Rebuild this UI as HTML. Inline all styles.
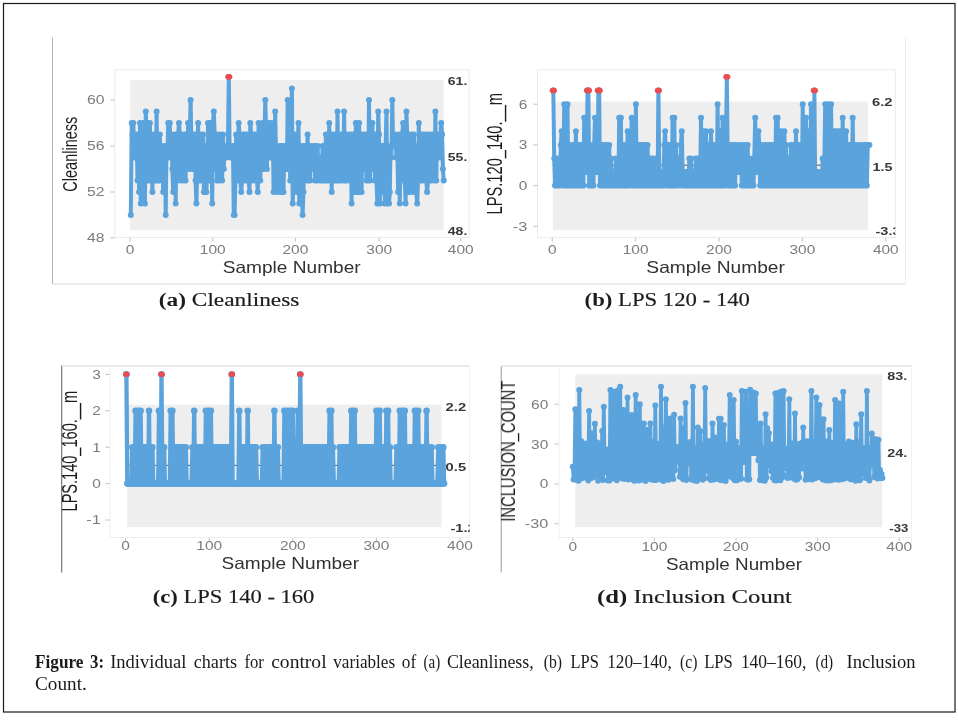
<!DOCTYPE html>
<html lang="en"><head><meta charset="utf-8"><title>Figure 3</title>
<style>html,body{margin:0;padding:0;background:#fff;}body{width:958px;height:720px;overflow:hidden;font-family:"Liberation Sans",sans-serif;}svg{display:block;}</style>
</head><body>
<svg width="958" height="720" viewBox="0 0 958 720">
<defs><filter id="soft" x="-2%" y="-2%" width="104%" height="104%"><feGaussianBlur stdDeviation="0.6"/></filter><filter id="soft2" x="-2%" y="-2%" width="104%" height="104%"><feGaussianBlur stdDeviation="0.62"/></filter>
<clipPath id="clipB"><rect x="480" y="60" width="415.3" height="200"/></clipPath>
<clipPath id="clipA"><rect x="40" y="60" width="429.2" height="200"/></clipPath>
<clipPath id="clipC"><rect x="40" y="366" width="429.6" height="200"/></clipPath>
<clipPath id="clipD"><rect x="480" y="366" width="429.5" height="200"/></clipPath>
</defs>
<rect x="0" y="0" width="958" height="720" fill="#ffffff"/>
<rect x="3.5" y="3.5" width="951.5" height="708.5" fill="none" stroke="#1a1a1a" stroke-width="1.2"/>
<g filter="url(#soft)">
<path d="M52.5 37.5V284" stroke="#b5b5b5" stroke-width="1" fill="none"/>
<path d="M52.5 284H905.5" stroke="#d9d9d9" stroke-width="1" fill="none"/>
<path d="M905.5 38V284" stroke="#ececec" stroke-width="1" fill="none"/>
<rect x="114.8" y="69.8" width="354.4" height="167.8" fill="#ffffff" stroke="#ebebeb" stroke-width="1"/>
<rect x="130.2" y="80" width="313.5" height="150.2" fill="#eeeeee"/>
<polyline points="130.8,215 131.7,123 132.5,134.5 133.3,123 134.2,157.5 135,134.5 135.8,157.5 136.6,134.5 137.5,180.5 138.3,134.5 139.1,192 140,123 140.8,203.5 141.6,134.5 142.4,180.5 143.3,123 144.1,169 144.9,203.5 145.8,111.5 146.6,134.5 147.4,180.5 148.3,123 149.1,180.5 149.9,123 150.8,180.5 151.6,134.5 152.4,192 153.2,134.5 154.1,180.5 154.9,146 155.7,180.5 156.6,111.5 157.4,180.5 158.2,134.5 159.1,180.5 159.9,134.5 160.7,169 161.5,146 162.4,157.5 163.2,192 164,169 164.9,146 165.7,215 166.5,146 167.3,157.5 168.2,123 169,157.5 169.8,123 170.7,157.5 171.5,134.5 172.3,169 173.2,192 174,169 174.8,134.5 175.7,203.5 176.5,134.5 177.3,180.5 178.1,134.5 179,123 179.8,134.5 180.6,180.5 181.5,134.5 182.3,169 183.1,146 183.9,180.5 184.8,134.5 185.6,180.5 186.4,134.5 187.3,157.5 188.1,123 188.9,169 189.8,134.5 190.6,100 191.4,146 192.2,169 193.1,134.5 193.9,169 194.7,134.5 195.6,180.5 196.4,203.5 197.2,169 198.1,123 198.9,180.5 199.7,146 200.6,180.5 201.4,134.5 202.2,169 203,134.5 203.9,192 204.7,146 205.5,180.5 206.4,192 207.2,169 208,123 208.8,180.5 209.7,123 210.5,180.5 211.3,123 212.2,203.5 213,123 213.8,111.5 214.7,134.5 215.5,169 216.3,134.5 217.1,180.5 218,146 218.8,180.5 219.6,134.5 220.5,169 221.3,146 222.1,180.5 223,134.5 223.8,169 224.6,146 225.4,157.5 226.3,157.5 227.1,146 227.9,146 228.8,77 229.6,146 230.4,157.5 231.3,157.5 232.1,157.5 232.9,146 233.8,215 234.6,215 235.4,180.5 236.2,134.5 237.1,180.5 237.9,146 238.7,123 239.6,134.5 240.4,180.5 241.2,192 242.1,180.5 242.9,134.5 243.7,169 244.5,134.5 245.4,180.5 246.2,134.5 247,180.5 247.9,134.5 248.7,180.5 249.5,192 250.3,123 251.2,134.5 252,180.5 252.8,146 253.7,169 254.5,134.5 255.3,180.5 256.2,134.5 257,180.5 257.8,192 258.6,123 259.5,146 260.3,180.5 261.1,146 262,169 262.8,123 263.6,169 264.5,134.5 265.3,100 266.1,134.5 266.9,169 267.8,123 268.6,157.5 269.4,134.5 270.3,157.5 271.1,123 271.9,157.5 272.8,134.5 273.6,192 274.4,146 275.2,111.5 276.1,157.5 276.9,192 277.7,157.5 278.6,180.5 279.4,146 280.2,192 281.1,146 281.9,192 282.7,146 283.5,192 284.4,146 285.2,169 286,146 286.9,169 287.7,100 288.5,169 289.4,134.5 290.2,180.5 291,146 291.9,88.5 292.7,203.5 293.5,180.5 294.3,134.5 295.2,180.5 296,134.5 296.8,192 297.7,146 298.5,123 299.3,203.5 300.1,192 301,146 301.8,192 302.6,215 303.5,192 304.3,146 305.1,169 306,146 306.8,180.5 307.6,134.5 308.4,180.5 309.3,146 310.1,180.5 310.9,146 311.8,169 312.6,157.5 313.4,169 314.3,146 315.1,180.5 315.9,146 316.8,180.5 317.6,146 318.4,169 319.2,157.5 320.1,180.5 320.9,157.5 321.7,180.5 322.6,146 323.4,180.5 324.2,146 325,180.5 325.9,134.5 326.7,180.5 327.5,134.5 328.4,180.5 329.2,123 330,169 330.9,134.5 331.7,192 332.5,134.5 333.4,169 334.2,134.5 335,180.5 335.8,134.5 336.7,180.5 337.5,111.5 338.3,180.5 339.2,134.5 340,180.5 340.8,134.5 341.6,169 342.5,134.5 343.3,180.5 344.1,111.5 345,180.5 345.8,134.5 346.6,180.5 347.5,134.5 348.3,169 349.1,146 349.9,180.5 350.8,134.5 351.6,203.5 352.4,134.5 353.3,180.5 354.1,134.5 354.9,192 355.8,123 356.6,192 357.4,123 358.2,192 359.1,123 359.9,192 360.7,134.5 361.6,192 362.4,134.5 363.2,169 364.1,134.5 364.9,169 365.7,146 366.5,180.5 367.4,134.5 368.2,180.5 369,100 369.9,180.5 370.7,134.5 371.5,169 372.4,123 373.2,169 374,134.5 374.9,180.5 375.7,134.5 376.5,180.5 377.3,203.5 378.2,111.5 379,134.5 379.8,203.5 380.7,146 381.5,180.5 382.3,146 383.1,192 384,146 384.8,203.5 385.6,146 386.5,111.5 387.3,203.5 388.1,192 389,203.5 389.8,192 390.6,146 391.4,157.5 392.3,100 393.1,146 393.9,134.5 394.8,146 395.6,134.5 396.4,157.5 397.3,146 398.1,192 398.9,134.5 399.8,203.5 400.6,146 401.4,180.5 402.2,134.5 403.1,123 403.9,134.5 404.7,180.5 405.6,203.5 406.4,111.5 407.2,134.5 408.1,192 408.9,146 409.7,192 410.5,134.5 411.4,180.5 412.2,134.5 413,192 413.9,134.5 414.7,180.5 415.5,146 416.3,192 417.2,203.5 418,180.5 418.8,123 419.7,180.5 420.5,134.5 421.3,180.5 422.2,134.5 423,180.5 423.8,134.5 424.6,169 425.5,134.5 426.3,180.5 427.1,192 428,180.5 428.8,134.5 429.6,180.5 430.5,134.5 431.3,180.5 432.1,134.5 432.9,169 433.8,146 434.6,180.5 435.4,111.5 436.3,180.5 437.1,134.5 437.9,146 438.8,146 439.6,157.5 440.4,134.5 441.2,123 442.1,134.5 442.9,169 443.7,180.5" fill="none" stroke="#5aa3dc" stroke-width="4.0" stroke-linejoin="round" stroke-linecap="round"/>
<path d="M130.8 215h0M131.7 123h0M132.5 134.5h0M133.3 123h0M134.2 157.5h0M135 134.5h0M135.8 157.5h0M136.6 134.5h0M137.5 180.5h0M138.3 134.5h0M139.1 192h0M140 123h0M140.8 203.5h0M141.6 134.5h0M142.4 180.5h0M143.3 123h0M144.1 169h0M144.9 203.5h0M145.8 111.5h0M146.6 134.5h0M147.4 180.5h0M148.3 123h0M149.1 180.5h0M149.9 123h0M150.8 180.5h0M151.6 134.5h0M152.4 192h0M153.2 134.5h0M154.1 180.5h0M154.9 146h0M155.7 180.5h0M156.6 111.5h0M157.4 180.5h0M158.2 134.5h0M159.1 180.5h0M159.9 134.5h0M160.7 169h0M161.5 146h0M162.4 157.5h0M163.2 192h0M164 169h0M164.9 146h0M165.7 215h0M166.5 146h0M167.3 157.5h0M168.2 123h0M169 157.5h0M169.8 123h0M170.7 157.5h0M171.5 134.5h0M172.3 169h0M173.2 192h0M174 169h0M174.8 134.5h0M175.7 203.5h0M176.5 134.5h0M177.3 180.5h0M178.1 134.5h0M179 123h0M179.8 134.5h0M180.6 180.5h0M181.5 134.5h0M182.3 169h0M183.1 146h0M183.9 180.5h0M184.8 134.5h0M185.6 180.5h0M186.4 134.5h0M187.3 157.5h0M188.1 123h0M188.9 169h0M189.8 134.5h0M190.6 100h0M191.4 146h0M192.2 169h0M193.1 134.5h0M193.9 169h0M194.7 134.5h0M195.6 180.5h0M196.4 203.5h0M197.2 169h0M198.1 123h0M198.9 180.5h0M199.7 146h0M200.6 180.5h0M201.4 134.5h0M202.2 169h0M203 134.5h0M203.9 192h0M204.7 146h0M205.5 180.5h0M206.4 192h0M207.2 169h0M208 123h0M208.8 180.5h0M209.7 123h0M210.5 180.5h0M211.3 123h0M212.2 203.5h0M213 123h0M213.8 111.5h0M214.7 134.5h0M215.5 169h0M216.3 134.5h0M217.1 180.5h0M218 146h0M218.8 180.5h0M219.6 134.5h0M220.5 169h0M221.3 146h0M222.1 180.5h0M223 134.5h0M223.8 169h0M224.6 146h0M225.4 157.5h0M226.3 157.5h0M227.1 146h0M227.9 146h0M228.8 77h0M229.6 146h0M230.4 157.5h0M231.3 157.5h0M232.1 157.5h0M232.9 146h0M233.8 215h0M234.6 215h0M235.4 180.5h0M236.2 134.5h0M237.1 180.5h0M237.9 146h0M238.7 123h0M239.6 134.5h0M240.4 180.5h0M241.2 192h0M242.1 180.5h0M242.9 134.5h0M243.7 169h0M244.5 134.5h0M245.4 180.5h0M246.2 134.5h0M247 180.5h0M247.9 134.5h0M248.7 180.5h0M249.5 192h0M250.3 123h0M251.2 134.5h0M252 180.5h0M252.8 146h0M253.7 169h0M254.5 134.5h0M255.3 180.5h0M256.2 134.5h0M257 180.5h0M257.8 192h0M258.6 123h0M259.5 146h0M260.3 180.5h0M261.1 146h0M262 169h0M262.8 123h0M263.6 169h0M264.5 134.5h0M265.3 100h0M266.1 134.5h0M266.9 169h0M267.8 123h0M268.6 157.5h0M269.4 134.5h0M270.3 157.5h0M271.1 123h0M271.9 157.5h0M272.8 134.5h0M273.6 192h0M274.4 146h0M275.2 111.5h0M276.1 157.5h0M276.9 192h0M277.7 157.5h0M278.6 180.5h0M279.4 146h0M280.2 192h0M281.1 146h0M281.9 192h0M282.7 146h0M283.5 192h0M284.4 146h0M285.2 169h0M286 146h0M286.9 169h0M287.7 100h0M288.5 169h0M289.4 134.5h0M290.2 180.5h0M291 146h0M291.9 88.5h0M292.7 203.5h0M293.5 180.5h0M294.3 134.5h0M295.2 180.5h0M296 134.5h0M296.8 192h0M297.7 146h0M298.5 123h0M299.3 203.5h0M300.1 192h0M301 146h0M301.8 192h0M302.6 215h0M303.5 192h0M304.3 146h0M305.1 169h0M306 146h0M306.8 180.5h0M307.6 134.5h0M308.4 180.5h0M309.3 146h0M310.1 180.5h0M310.9 146h0M311.8 169h0M312.6 157.5h0M313.4 169h0M314.3 146h0M315.1 180.5h0M315.9 146h0M316.8 180.5h0M317.6 146h0M318.4 169h0M319.2 157.5h0M320.1 180.5h0M320.9 157.5h0M321.7 180.5h0M322.6 146h0M323.4 180.5h0M324.2 146h0M325 180.5h0M325.9 134.5h0M326.7 180.5h0M327.5 134.5h0M328.4 180.5h0M329.2 123h0M330 169h0M330.9 134.5h0M331.7 192h0M332.5 134.5h0M333.4 169h0M334.2 134.5h0M335 180.5h0M335.8 134.5h0M336.7 180.5h0M337.5 111.5h0M338.3 180.5h0M339.2 134.5h0M340 180.5h0M340.8 134.5h0M341.6 169h0M342.5 134.5h0M343.3 180.5h0M344.1 111.5h0M345 180.5h0M345.8 134.5h0M346.6 180.5h0M347.5 134.5h0M348.3 169h0M349.1 146h0M349.9 180.5h0M350.8 134.5h0M351.6 203.5h0M352.4 134.5h0M353.3 180.5h0M354.1 134.5h0M354.9 192h0M355.8 123h0M356.6 192h0M357.4 123h0M358.2 192h0M359.1 123h0M359.9 192h0M360.7 134.5h0M361.6 192h0M362.4 134.5h0M363.2 169h0M364.1 134.5h0M364.9 169h0M365.7 146h0M366.5 180.5h0M367.4 134.5h0M368.2 180.5h0M369 100h0M369.9 180.5h0M370.7 134.5h0M371.5 169h0M372.4 123h0M373.2 169h0M374 134.5h0M374.9 180.5h0M375.7 134.5h0M376.5 180.5h0M377.3 203.5h0M378.2 111.5h0M379 134.5h0M379.8 203.5h0M380.7 146h0M381.5 180.5h0M382.3 146h0M383.1 192h0M384 146h0M384.8 203.5h0M385.6 146h0M386.5 111.5h0M387.3 203.5h0M388.1 192h0M389 203.5h0M389.8 192h0M390.6 146h0M391.4 157.5h0M392.3 100h0M393.1 146h0M393.9 134.5h0M394.8 146h0M395.6 134.5h0M396.4 157.5h0M397.3 146h0M398.1 192h0M398.9 134.5h0M399.8 203.5h0M400.6 146h0M401.4 180.5h0M402.2 134.5h0M403.1 123h0M403.9 134.5h0M404.7 180.5h0M405.6 203.5h0M406.4 111.5h0M407.2 134.5h0M408.1 192h0M408.9 146h0M409.7 192h0M410.5 134.5h0M411.4 180.5h0M412.2 134.5h0M413 192h0M413.9 134.5h0M414.7 180.5h0M415.5 146h0M416.3 192h0M417.2 203.5h0M418 180.5h0M418.8 123h0M419.7 180.5h0M420.5 134.5h0M421.3 180.5h0M422.2 134.5h0M423 180.5h0M423.8 134.5h0M424.6 169h0M425.5 134.5h0M426.3 180.5h0M427.1 192h0M428 180.5h0M428.8 134.5h0M429.6 180.5h0M430.5 134.5h0M431.3 180.5h0M432.1 134.5h0M432.9 169h0M433.8 146h0M434.6 180.5h0M435.4 111.5h0M436.3 180.5h0M437.1 134.5h0M437.9 146h0M438.8 146h0M439.6 157.5h0M440.4 134.5h0M441.2 123h0M442.1 134.5h0M442.9 169h0M443.7 180.5h0" fill="none" stroke="#5aa3dc" stroke-width="6" stroke-linecap="round"/>
<ellipse cx="228.8" cy="76.8" rx="3.6" ry="2.9" fill="#ec4c50"/>
<path d="M110.5 100H114.5" stroke="#c0c0c0" stroke-width="1"/>
<text x="104.6" y="104.4" font-family="'Liberation Sans', sans-serif" font-size="12.5" font-weight="normal" fill="#7c7c7c" text-anchor="end" textLength="17.5" lengthAdjust="spacingAndGlyphs">60</text>
<path d="M110.5 146H114.5" stroke="#c0c0c0" stroke-width="1"/>
<text x="104.6" y="150.4" font-family="'Liberation Sans', sans-serif" font-size="12.5" font-weight="normal" fill="#7c7c7c" text-anchor="end" textLength="17.5" lengthAdjust="spacingAndGlyphs">56</text>
<path d="M110.5 192H114.5" stroke="#c0c0c0" stroke-width="1"/>
<text x="104.6" y="196.4" font-family="'Liberation Sans', sans-serif" font-size="12.5" font-weight="normal" fill="#7c7c7c" text-anchor="end" textLength="17.5" lengthAdjust="spacingAndGlyphs">52</text>
<path d="M110.5 238H114.5" stroke="#c0c0c0" stroke-width="1"/>
<text x="104.6" y="242.4" font-family="'Liberation Sans', sans-serif" font-size="12.5" font-weight="normal" fill="#7c7c7c" text-anchor="end" textLength="17.5" lengthAdjust="spacingAndGlyphs">48</text>
<path d="M130.1 238V241.5" stroke="#c0c0c0" stroke-width="1"/>
<text x="130.1" y="254.3" font-family="'Liberation Sans', sans-serif" font-size="12.5" font-weight="normal" fill="#7c7c7c" text-anchor="middle" textLength="8.6" lengthAdjust="spacingAndGlyphs">0</text>
<path d="M212.7 238V241.5" stroke="#c0c0c0" stroke-width="1"/>
<text x="212.7" y="254.3" font-family="'Liberation Sans', sans-serif" font-size="12.5" font-weight="normal" fill="#7c7c7c" text-anchor="middle" textLength="25.8" lengthAdjust="spacingAndGlyphs">100</text>
<path d="M295.4 238V241.5" stroke="#c0c0c0" stroke-width="1"/>
<text x="295.4" y="254.3" font-family="'Liberation Sans', sans-serif" font-size="12.5" font-weight="normal" fill="#7c7c7c" text-anchor="middle" textLength="25.8" lengthAdjust="spacingAndGlyphs">200</text>
<path d="M379.2 238V241.5" stroke="#c0c0c0" stroke-width="1"/>
<text x="379.2" y="254.3" font-family="'Liberation Sans', sans-serif" font-size="12.5" font-weight="normal" fill="#7c7c7c" text-anchor="middle" textLength="25.8" lengthAdjust="spacingAndGlyphs">300</text>
<path d="M460.7 238V241.5" stroke="#c0c0c0" stroke-width="1"/>
<text x="460.7" y="254.3" font-family="'Liberation Sans', sans-serif" font-size="12.5" font-weight="normal" fill="#7c7c7c" text-anchor="middle" textLength="25.8" lengthAdjust="spacingAndGlyphs">400</text>
<text x="291.7" y="273.1" font-family="'Liberation Sans', sans-serif" font-size="16.5" font-weight="normal" fill="#333333" text-anchor="middle" textLength="138" lengthAdjust="spacingAndGlyphs">Sample Number</text>
<text transform="translate(77.2 154.2) rotate(-90)" x="0" y="0" font-family="'Liberation Sans', sans-serif" font-size="20.5" fill="#1f1f1f" text-anchor="middle" textLength="75" lengthAdjust="spacingAndGlyphs">Cleanliness</text>
<g clip-path="url(#clipA)">
<text x="447.8" y="85.4" font-family="'Liberation Sans', sans-serif" font-size="10.8" font-weight="bold" fill="#383838" text-anchor="start" textLength="19.5" lengthAdjust="spacingAndGlyphs">61.</text>
<text x="447.8" y="161.2" font-family="'Liberation Sans', sans-serif" font-size="10.8" font-weight="bold" fill="#383838" text-anchor="start" textLength="19.5" lengthAdjust="spacingAndGlyphs">55.</text>
<text x="447.8" y="235" font-family="'Liberation Sans', sans-serif" font-size="10.8" font-weight="bold" fill="#383838" text-anchor="start" textLength="19.5" lengthAdjust="spacingAndGlyphs">48.</text>
</g>
<rect x="537.5" y="69.8" width="357.8" height="167.8" fill="#ffffff" stroke="#ebebeb" stroke-width="1"/>
<rect x="552.8" y="101.6" width="315.2" height="128.6" fill="#eeeeee"/>
<path d="M552.8 165.2H868" stroke="#5a5a5a" stroke-width="1"/>
<polyline points="553.3,90.6 554.2,158.5 555,185.6 555.8,158.5 556.7,185.6 557.5,158.5 558.3,185.6 559.2,158.5 560,185.6 560.8,144.9 561.7,131.3 562.5,158.5 563.3,185.6 564.2,104.2 565,185.6 565.8,117.8 566.7,185.6 567.5,104.2 568.3,185.6 569.2,144.9 570,185.6 570.8,158.5 571.7,185.6 572.5,144.9 573.4,185.6 574.2,144.9 575,185.6 575.9,131.3 576.7,185.6 577.5,144.9 578.4,185.6 579.2,144.9 580,185.6 580.9,144.9 581.7,185.6 582.5,158.5 583.4,185.6 584.2,117.8 585,172 585.9,172 586.7,172 587.5,90.6 588.4,90.6 589.2,185.6 590,185.6 590.9,158.5 591.7,185.6 592.5,144.9 593.4,185.6 594.2,144.9 595,117.8 595.9,158.5 596.7,172 597.5,172 598.4,90.6 599.2,90.6 600,185.6 600.9,144.9 601.7,185.6 602.5,144.9 603.4,185.6 604.2,144.9 605,185.6 605.9,144.9 606.7,185.6 607.5,158.5 608.4,185.6 609.2,144.9 610,185.6 610.9,158.5 611.7,185.6 612.5,172 613.4,185.6 614.2,172 615,185.6 615.9,158.5 616.7,185.6 617.6,172 618.4,185.6 619.2,117.8 620.1,185.6 620.9,117.8 621.7,185.6 622.6,158.5 623.4,185.6 624.2,144.9 625.1,185.6 625.9,144.9 626.7,185.6 627.6,131.3 628.4,185.6 629.2,144.9 630.1,185.6 630.9,158.5 631.7,117.8 632.6,144.9 633.4,185.6 634.2,131.3 635.1,185.6 635.9,104.2 636.7,185.6 637.6,144.9 638.4,185.6 639.2,144.9 640.1,185.6 640.9,144.9 641.7,185.6 642.6,144.9 643.4,185.6 644.2,144.9 645.1,185.6 645.9,144.9 646.7,185.6 647.6,144.9 648.4,185.6 649.2,158.5 650.1,185.6 650.9,158.5 651.7,185.6 652.6,158.5 653.4,185.6 654.2,172 655.1,185.6 655.9,158.5 656.8,185.6 657.6,185.6 658.4,90.6 659.3,172 660.1,185.6 660.9,172 661.8,185.6 662.6,172 663.4,185.6 664.3,144.9 665.1,131.3 665.9,158.5 666.8,185.6 667.6,144.9 668.4,185.6 669.3,144.9 670.1,185.6 670.9,172 671.8,185.6 672.6,117.8 673.4,185.6 674.3,117.8 675.1,185.6 675.9,144.9 676.8,185.6 677.6,158.5 678.4,172 679.3,158.5 680.1,185.6 680.9,144.9 681.8,131.3 682.6,172 683.4,185.6 684.3,172 685.1,185.6 685.9,172 686.8,185.6 687.6,172 688.4,185.6 689.3,158.5 690.1,185.6 690.9,158.5 691.8,185.6 692.6,172 693.4,185.6 694.3,172 695.1,185.6 695.9,158.5 696.8,185.6 697.6,158.5 698.5,185.6 699.3,158.5 700.1,185.6 701,117.8 701.8,185.6 702.6,131.3 703.5,185.6 704.3,131.3 705.1,185.6 706,131.3 706.8,185.6 707.6,144.9 708.5,185.6 709.3,144.9 710.1,185.6 711,131.3 711.8,185.6 712.6,144.9 713.5,185.6 714.3,144.9 715.1,185.6 716,144.9 716.8,185.6 717.6,104.2 718.5,185.6 719.3,131.3 720.1,185.6 721,131.3 721.8,185.6 722.6,117.8 723.5,185.6 724.3,131.3 725.1,185.6 726,144.9 726.8,77 727.6,144.9 728.5,185.6 729.3,144.9 730.1,185.6 731,144.9 731.8,185.6 732.6,144.9 733.5,185.6 734.3,144.9 735.1,185.6 736,144.9 736.8,172 737.6,158.5 738.5,172 739.3,144.9 740.1,172 741,144.9 741.8,185.6 742.7,158.5 743.5,185.6 744.3,144.9 745.2,185.6 746,144.9 746.8,185.6 747.7,144.9 748.5,185.6 749.3,158.5 750.2,185.6 751,172 751.8,185.6 752.7,158.5 753.5,185.6 754.3,158.5 755.2,117.8 756,158.5 756.8,172 757.7,158.5 758.5,131.3 759.3,144.9 760.2,185.6 761,144.9 761.8,185.6 762.7,172 763.5,185.6 764.3,144.9 765.2,185.6 766,144.9 766.8,185.6 767.7,158.5 768.5,185.6 769.3,144.9 770.2,185.6 771,144.9 771.8,185.6 772.7,144.9 773.5,185.6 774.3,144.9 775.2,185.6 776,117.8 776.8,185.6 777.7,117.8 778.5,185.6 779.3,131.3 780.2,185.6 781,144.9 781.9,185.6 782.7,131.3 783.5,185.6 784.4,131.3 785.2,185.6 786,144.9 786.9,185.6 787.7,158.5 788.5,185.6 789.4,158.5 790.2,185.6 791,144.9 791.9,185.6 792.7,144.9 793.5,185.6 794.4,144.9 795.2,185.6 796,131.3 796.9,185.6 797.7,144.9 798.5,185.6 799.4,144.9 800.2,185.6 801,144.9 801.9,185.6 802.7,104.2 803.5,185.6 804.4,144.9 805.2,185.6 806,117.8 806.9,185.6 807.7,131.3 808.5,185.6 809.4,144.9 810.2,185.6 811,104.2 811.9,185.6 812.7,144.9 813.5,185.6 814.4,90.6 815.2,185.6 816,172 816.9,185.6 817.7,172 818.5,185.6 819.4,172 820.2,185.6 821,172 821.9,185.6 822.7,158.5 823.5,185.6 824.4,158.5 825.2,104.2 826.1,185.6 826.9,117.8 827.7,104.2 828.6,185.6 829.4,117.8 830.2,185.6 831.1,104.2 831.9,185.6 832.7,144.9 833.6,185.6 834.4,131.3 835.2,185.6 836.1,131.3 836.9,185.6 837.7,131.3 838.6,185.6 839.4,131.3 840.2,185.6 841.1,131.3 841.9,185.6 842.7,117.8 843.6,185.6 844.4,131.3 845.2,185.6 846.1,131.3 846.9,185.6 847.7,144.9 848.6,185.6 849.4,144.9 850.2,185.6 851.1,144.9 851.9,185.6 852.7,117.8 853.6,185.6 854.4,144.9 855.2,185.6 856.1,144.9 856.9,185.6 857.7,144.9 858.6,185.6 859.4,158.5 860.2,185.6 861.1,144.9 861.9,185.6 862.7,172 863.6,185.6 864.4,144.9 865.2,185.6 866.1,144.9 866.9,185.6 867.8,144.9 868.6,144.9 869.4,144.9" fill="none" stroke="#5aa3dc" stroke-width="4.0" stroke-linejoin="round" stroke-linecap="round"/>
<path d="M553.3 90.6h0M554.2 158.5h0M555 185.6h0M555.8 158.5h0M556.7 185.6h0M557.5 158.5h0M558.3 185.6h0M559.2 158.5h0M560 185.6h0M560.8 144.9h0M561.7 131.3h0M562.5 158.5h0M563.3 185.6h0M564.2 104.2h0M565 185.6h0M565.8 117.8h0M566.7 185.6h0M567.5 104.2h0M568.3 185.6h0M569.2 144.9h0M570 185.6h0M570.8 158.5h0M571.7 185.6h0M572.5 144.9h0M573.4 185.6h0M574.2 144.9h0M575 185.6h0M575.9 131.3h0M576.7 185.6h0M577.5 144.9h0M578.4 185.6h0M579.2 144.9h0M580 185.6h0M580.9 144.9h0M581.7 185.6h0M582.5 158.5h0M583.4 185.6h0M584.2 117.8h0M585 172h0M585.9 172h0M586.7 172h0M587.5 90.6h0M588.4 90.6h0M589.2 185.6h0M590 185.6h0M590.9 158.5h0M591.7 185.6h0M592.5 144.9h0M593.4 185.6h0M594.2 144.9h0M595 117.8h0M595.9 158.5h0M596.7 172h0M597.5 172h0M598.4 90.6h0M599.2 90.6h0M600 185.6h0M600.9 144.9h0M601.7 185.6h0M602.5 144.9h0M603.4 185.6h0M604.2 144.9h0M605 185.6h0M605.9 144.9h0M606.7 185.6h0M607.5 158.5h0M608.4 185.6h0M609.2 144.9h0M610 185.6h0M610.9 158.5h0M611.7 185.6h0M612.5 172h0M613.4 185.6h0M614.2 172h0M615 185.6h0M615.9 158.5h0M616.7 185.6h0M617.6 172h0M618.4 185.6h0M619.2 117.8h0M620.1 185.6h0M620.9 117.8h0M621.7 185.6h0M622.6 158.5h0M623.4 185.6h0M624.2 144.9h0M625.1 185.6h0M625.9 144.9h0M626.7 185.6h0M627.6 131.3h0M628.4 185.6h0M629.2 144.9h0M630.1 185.6h0M630.9 158.5h0M631.7 117.8h0M632.6 144.9h0M633.4 185.6h0M634.2 131.3h0M635.1 185.6h0M635.9 104.2h0M636.7 185.6h0M637.6 144.9h0M638.4 185.6h0M639.2 144.9h0M640.1 185.6h0M640.9 144.9h0M641.7 185.6h0M642.6 144.9h0M643.4 185.6h0M644.2 144.9h0M645.1 185.6h0M645.9 144.9h0M646.7 185.6h0M647.6 144.9h0M648.4 185.6h0M649.2 158.5h0M650.1 185.6h0M650.9 158.5h0M651.7 185.6h0M652.6 158.5h0M653.4 185.6h0M654.2 172h0M655.1 185.6h0M655.9 158.5h0M656.8 185.6h0M657.6 185.6h0M658.4 90.6h0M659.3 172h0M660.1 185.6h0M660.9 172h0M661.8 185.6h0M662.6 172h0M663.4 185.6h0M664.3 144.9h0M665.1 131.3h0M665.9 158.5h0M666.8 185.6h0M667.6 144.9h0M668.4 185.6h0M669.3 144.9h0M670.1 185.6h0M670.9 172h0M671.8 185.6h0M672.6 117.8h0M673.4 185.6h0M674.3 117.8h0M675.1 185.6h0M675.9 144.9h0M676.8 185.6h0M677.6 158.5h0M678.4 172h0M679.3 158.5h0M680.1 185.6h0M680.9 144.9h0M681.8 131.3h0M682.6 172h0M683.4 185.6h0M684.3 172h0M685.1 185.6h0M685.9 172h0M686.8 185.6h0M687.6 172h0M688.4 185.6h0M689.3 158.5h0M690.1 185.6h0M690.9 158.5h0M691.8 185.6h0M692.6 172h0M693.4 185.6h0M694.3 172h0M695.1 185.6h0M695.9 158.5h0M696.8 185.6h0M697.6 158.5h0M698.5 185.6h0M699.3 158.5h0M700.1 185.6h0M701 117.8h0M701.8 185.6h0M702.6 131.3h0M703.5 185.6h0M704.3 131.3h0M705.1 185.6h0M706 131.3h0M706.8 185.6h0M707.6 144.9h0M708.5 185.6h0M709.3 144.9h0M710.1 185.6h0M711 131.3h0M711.8 185.6h0M712.6 144.9h0M713.5 185.6h0M714.3 144.9h0M715.1 185.6h0M716 144.9h0M716.8 185.6h0M717.6 104.2h0M718.5 185.6h0M719.3 131.3h0M720.1 185.6h0M721 131.3h0M721.8 185.6h0M722.6 117.8h0M723.5 185.6h0M724.3 131.3h0M725.1 185.6h0M726 144.9h0M726.8 77h0M727.6 144.9h0M728.5 185.6h0M729.3 144.9h0M730.1 185.6h0M731 144.9h0M731.8 185.6h0M732.6 144.9h0M733.5 185.6h0M734.3 144.9h0M735.1 185.6h0M736 144.9h0M736.8 172h0M737.6 158.5h0M738.5 172h0M739.3 144.9h0M740.1 172h0M741 144.9h0M741.8 185.6h0M742.7 158.5h0M743.5 185.6h0M744.3 144.9h0M745.2 185.6h0M746 144.9h0M746.8 185.6h0M747.7 144.9h0M748.5 185.6h0M749.3 158.5h0M750.2 185.6h0M751 172h0M751.8 185.6h0M752.7 158.5h0M753.5 185.6h0M754.3 158.5h0M755.2 117.8h0M756 158.5h0M756.8 172h0M757.7 158.5h0M758.5 131.3h0M759.3 144.9h0M760.2 185.6h0M761 144.9h0M761.8 185.6h0M762.7 172h0M763.5 185.6h0M764.3 144.9h0M765.2 185.6h0M766 144.9h0M766.8 185.6h0M767.7 158.5h0M768.5 185.6h0M769.3 144.9h0M770.2 185.6h0M771 144.9h0M771.8 185.6h0M772.7 144.9h0M773.5 185.6h0M774.3 144.9h0M775.2 185.6h0M776 117.8h0M776.8 185.6h0M777.7 117.8h0M778.5 185.6h0M779.3 131.3h0M780.2 185.6h0M781 144.9h0M781.9 185.6h0M782.7 131.3h0M783.5 185.6h0M784.4 131.3h0M785.2 185.6h0M786 144.9h0M786.9 185.6h0M787.7 158.5h0M788.5 185.6h0M789.4 158.5h0M790.2 185.6h0M791 144.9h0M791.9 185.6h0M792.7 144.9h0M793.5 185.6h0M794.4 144.9h0M795.2 185.6h0M796 131.3h0M796.9 185.6h0M797.7 144.9h0M798.5 185.6h0M799.4 144.9h0M800.2 185.6h0M801 144.9h0M801.9 185.6h0M802.7 104.2h0M803.5 185.6h0M804.4 144.9h0M805.2 185.6h0M806 117.8h0M806.9 185.6h0M807.7 131.3h0M808.5 185.6h0M809.4 144.9h0M810.2 185.6h0M811 104.2h0M811.9 185.6h0M812.7 144.9h0M813.5 185.6h0M814.4 90.6h0M815.2 185.6h0M816 172h0M816.9 185.6h0M817.7 172h0M818.5 185.6h0M819.4 172h0M820.2 185.6h0M821 172h0M821.9 185.6h0M822.7 158.5h0M823.5 185.6h0M824.4 158.5h0M825.2 104.2h0M826.1 185.6h0M826.9 117.8h0M827.7 104.2h0M828.6 185.6h0M829.4 117.8h0M830.2 185.6h0M831.1 104.2h0M831.9 185.6h0M832.7 144.9h0M833.6 185.6h0M834.4 131.3h0M835.2 185.6h0M836.1 131.3h0M836.9 185.6h0M837.7 131.3h0M838.6 185.6h0M839.4 131.3h0M840.2 185.6h0M841.1 131.3h0M841.9 185.6h0M842.7 117.8h0M843.6 185.6h0M844.4 131.3h0M845.2 185.6h0M846.1 131.3h0M846.9 185.6h0M847.7 144.9h0M848.6 185.6h0M849.4 144.9h0M850.2 185.6h0M851.1 144.9h0M851.9 185.6h0M852.7 117.8h0M853.6 185.6h0M854.4 144.9h0M855.2 185.6h0M856.1 144.9h0M856.9 185.6h0M857.7 144.9h0M858.6 185.6h0M859.4 158.5h0M860.2 185.6h0M861.1 144.9h0M861.9 185.6h0M862.7 172h0M863.6 185.6h0M864.4 144.9h0M865.2 185.6h0M866.1 144.9h0M866.9 185.6h0M867.8 144.9h0M868.6 144.9h0M869.4 144.9h0" fill="none" stroke="#5aa3dc" stroke-width="6" stroke-linecap="round"/>
<ellipse cx="553.3" cy="90.4" rx="3.6" ry="2.9" fill="#ec4c50"/>
<ellipse cx="587.5" cy="90.4" rx="3.6" ry="2.9" fill="#ec4c50"/>
<ellipse cx="588.4" cy="90.4" rx="3.6" ry="2.9" fill="#ec4c50"/>
<ellipse cx="598.4" cy="90.4" rx="3.6" ry="2.9" fill="#ec4c50"/>
<ellipse cx="599.2" cy="90.4" rx="3.6" ry="2.9" fill="#ec4c50"/>
<ellipse cx="658.4" cy="90.4" rx="3.6" ry="2.9" fill="#ec4c50"/>
<ellipse cx="726.8" cy="76.8" rx="3.6" ry="2.9" fill="#ec4c50"/>
<ellipse cx="814.4" cy="90.4" rx="3.6" ry="2.9" fill="#ec4c50"/>
<path d="M533.5 104.2H537.5" stroke="#c0c0c0" stroke-width="1"/>
<text x="527.3" y="108.6" font-family="'Liberation Sans', sans-serif" font-size="12.5" font-weight="normal" fill="#7c7c7c" text-anchor="end" textLength="8.6" lengthAdjust="spacingAndGlyphs">6</text>
<path d="M533.5 144.9H537.5" stroke="#c0c0c0" stroke-width="1"/>
<text x="527.3" y="149.3" font-family="'Liberation Sans', sans-serif" font-size="12.5" font-weight="normal" fill="#7c7c7c" text-anchor="end" textLength="8.6" lengthAdjust="spacingAndGlyphs">3</text>
<path d="M533.5 185.6H537.5" stroke="#c0c0c0" stroke-width="1"/>
<text x="527.3" y="190" font-family="'Liberation Sans', sans-serif" font-size="12.5" font-weight="normal" fill="#7c7c7c" text-anchor="end" textLength="8.6" lengthAdjust="spacingAndGlyphs">0</text>
<path d="M533.5 226.3H537.5" stroke="#c0c0c0" stroke-width="1"/>
<text x="527.3" y="230.7" font-family="'Liberation Sans', sans-serif" font-size="12.5" font-weight="normal" fill="#7c7c7c" text-anchor="end" textLength="14.5" lengthAdjust="spacingAndGlyphs">-3</text>
<path d="M552.2 238V241.5" stroke="#c0c0c0" stroke-width="1"/>
<text x="552.2" y="254.3" font-family="'Liberation Sans', sans-serif" font-size="12.5" font-weight="normal" fill="#7c7c7c" text-anchor="middle" textLength="8.6" lengthAdjust="spacingAndGlyphs">0</text>
<path d="M635.6 238V241.5" stroke="#c0c0c0" stroke-width="1"/>
<text x="635.6" y="254.3" font-family="'Liberation Sans', sans-serif" font-size="12.5" font-weight="normal" fill="#7c7c7c" text-anchor="middle" textLength="25.8" lengthAdjust="spacingAndGlyphs">100</text>
<path d="M719 238V241.5" stroke="#c0c0c0" stroke-width="1"/>
<text x="719" y="254.3" font-family="'Liberation Sans', sans-serif" font-size="12.5" font-weight="normal" fill="#7c7c7c" text-anchor="middle" textLength="25.8" lengthAdjust="spacingAndGlyphs">200</text>
<path d="M802.4 238V241.5" stroke="#c0c0c0" stroke-width="1"/>
<text x="802.4" y="254.3" font-family="'Liberation Sans', sans-serif" font-size="12.5" font-weight="normal" fill="#7c7c7c" text-anchor="middle" textLength="25.8" lengthAdjust="spacingAndGlyphs">300</text>
<path d="M885.8 238V241.5" stroke="#c0c0c0" stroke-width="1"/>
<text x="885.8" y="254.3" font-family="'Liberation Sans', sans-serif" font-size="12.5" font-weight="normal" fill="#7c7c7c" text-anchor="middle" textLength="25.8" lengthAdjust="spacingAndGlyphs">400</text>
<text x="715.6" y="273.1" font-family="'Liberation Sans', sans-serif" font-size="16.5" font-weight="normal" fill="#333333" text-anchor="middle" textLength="138.5" lengthAdjust="spacingAndGlyphs">Sample Number</text>
<text transform="translate(502.3 153.7) rotate(-90)" x="0" y="0" font-family="'Liberation Sans', sans-serif" font-size="21.5" fill="#1f1f1f" text-anchor="middle" textLength="121.5" lengthAdjust="spacingAndGlyphs">LPS.120_140.__m</text>
<g clip-path="url(#clipB)">
<text x="872" y="106" font-family="'Liberation Sans', sans-serif" font-size="10.8" font-weight="bold" fill="#383838" text-anchor="start" textLength="20.5" lengthAdjust="spacingAndGlyphs">6.2</text>
<text x="872.5" y="170.6" font-family="'Liberation Sans', sans-serif" font-size="10.8" font-weight="bold" fill="#383838" text-anchor="start" textLength="20" lengthAdjust="spacingAndGlyphs">1.5</text>
<text x="875.5" y="235" font-family="'Liberation Sans', sans-serif" font-size="10.8" font-weight="bold" fill="#383838" text-anchor="start" textLength="25" lengthAdjust="spacingAndGlyphs">-3.3</text>
</g>
</g>
<g filter="url(#soft2)">
<path d="M61.7 365.5V572.5" stroke="#6a6a6a" stroke-width="1.1" fill="none"/>
<path d="M61.5 366H469.5" stroke="#d5d5d5" stroke-width="1" fill="none"/>
<path d="M469.5 366V537" stroke="#f0f0f0" stroke-width="1" fill="none"/>
<path d="M110 366V537.5H469.5" stroke="#efefef" stroke-width="1" fill="none"/>
<rect x="127.2" y="404.7" width="314.3" height="122.5" fill="#eeeeee"/>
<path d="M127.2 465.4H441.5" stroke="#5a5a5a" stroke-width="1"/>
<polyline points="126.4,374.4 127.3,483.6 128.1,483.6 128.9,483.6 129.8,483.6 130.6,483.6 131.5,483.6 132.3,447.2 133.1,483.6 134,447.2 134.8,483.6 135.6,410.8 136.5,483.6 137.3,410.8 138.1,483.6 139,410.8 139.8,483.6 140.6,410.8 141.5,483.6 142.3,447.2 143.2,483.6 144,447.2 144.8,483.6 145.7,447.2 146.5,483.6 147.3,447.2 148.2,483.6 149,410.8 149.8,483.6 150.7,447.2 151.5,483.6 152.4,447.2 153.2,483.6 154,483.6 154.9,483.6 155.7,483.6 156.5,483.6 157.4,483.6 158.2,483.6 159,410.8 159.9,483.6 160.7,483.6 161.5,374.4 162.4,483.6 163.2,483.6 164.1,447.2 164.9,483.6 165.7,483.6 166.6,483.6 167.4,483.6 168.2,483.6 169.1,483.6 169.9,483.6 170.7,410.8 171.6,483.6 172.4,410.8 173.3,483.6 174.1,447.2 174.9,483.6 175.8,447.2 176.6,483.6 177.4,447.2 178.3,483.6 179.1,447.2 179.9,483.6 180.8,447.2 181.6,483.6 182.4,447.2 183.3,483.6 184.1,447.2 185,483.6 185.8,447.2 186.6,483.6 187.5,483.6 188.3,483.6 189.1,483.6 190,483.6 190.8,483.6 191.6,483.6 192.5,447.2 193.3,483.6 194.2,410.8 195,483.6 195.8,447.2 196.7,483.6 197.5,447.2 198.3,483.6 199.2,447.2 200,483.6 200.8,447.2 201.7,483.6 202.5,447.2 203.3,483.6 204.2,447.2 205,483.6 205.9,410.8 206.7,483.6 207.5,410.8 208.4,483.6 209.2,410.8 210,483.6 210.9,410.8 211.7,483.6 212.5,447.2 213.4,483.6 214.2,447.2 215.1,483.6 215.9,447.2 216.7,483.6 217.6,447.2 218.4,483.6 219.2,447.2 220.1,483.6 220.9,447.2 221.7,483.6 222.6,447.2 223.4,483.6 224.2,447.2 225.1,483.6 225.9,447.2 226.8,483.6 227.6,447.2 228.4,483.6 229.3,447.2 230.1,483.6 230.9,483.6 231.8,374.4 232.6,483.6 233.4,483.6 234.3,483.6 235.1,483.6 236,483.6 236.8,483.6 237.6,483.6 238.5,483.6 239.3,410.8 240.1,483.6 241,447.2 241.8,483.6 242.6,447.2 243.5,483.6 244.3,447.2 245.1,483.6 246,447.2 246.8,483.6 247.7,410.8 248.5,483.6 249.3,447.2 250.2,483.6 251,447.2 251.8,483.6 252.7,447.2 253.5,483.6 254.3,447.2 255.2,483.6 256,447.2 256.9,483.6 257.7,483.6 258.5,483.6 259.4,483.6 260.2,483.6 261,483.6 261.9,483.6 262.7,447.2 263.5,483.6 264.4,447.2 265.2,483.6 266,447.2 266.9,483.6 267.7,447.2 268.6,483.6 269.4,447.2 270.2,483.6 271.1,447.2 271.9,483.6 272.7,447.2 273.6,483.6 274.4,410.8 275.2,483.6 276.1,447.2 276.9,483.6 277.8,447.2 278.6,483.6 279.4,483.6 280.3,483.6 281.1,483.6 281.9,483.6 282.8,483.6 283.6,483.6 284.4,410.8 285.3,483.6 286.1,410.8 286.9,483.6 287.8,410.8 288.6,483.6 289.5,410.8 290.3,483.6 291.1,410.8 292,483.6 292.8,410.8 293.6,483.6 294.5,447.2 295.3,483.6 296.1,447.2 297,483.6 297.8,410.8 298.7,483.6 299.5,447.2 300.3,374.4 301.2,483.6 302,483.6 302.8,447.2 303.7,483.6 304.5,447.2 305.3,483.6 306.2,447.2 307,483.6 307.8,447.2 308.7,483.6 309.5,447.2 310.4,483.6 311.2,447.2 312,483.6 312.9,447.2 313.7,483.6 314.5,447.2 315.4,483.6 316.2,447.2 317,483.6 317.9,447.2 318.7,483.6 319.6,447.2 320.4,483.6 321.2,447.2 322.1,483.6 322.9,447.2 323.7,483.6 324.6,447.2 325.4,483.6 326.2,447.2 327.1,483.6 327.9,447.2 328.7,483.6 329.6,410.8 330.4,483.6 331.3,410.8 332.1,483.6 332.9,447.2 333.8,483.6 334.6,483.6 335.4,483.6 336.3,483.6 337.1,483.6 337.9,483.6 338.8,483.6 339.6,447.2 340.5,483.6 341.3,447.2 342.1,483.6 343,447.2 343.8,483.6 344.6,447.2 345.5,483.6 346.3,447.2 347.1,483.6 348,447.2 348.8,483.6 349.6,447.2 350.5,483.6 351.3,410.8 352.2,483.6 353,410.8 353.8,483.6 354.7,410.8 355.5,483.6 356.3,447.2 357.2,483.6 358,447.2 358.8,483.6 359.7,447.2 360.5,483.6 361.4,447.2 362.2,483.6 363,447.2 363.9,483.6 364.7,447.2 365.5,483.6 366.4,447.2 367.2,483.6 368,447.2 368.9,483.6 369.7,447.2 370.5,483.6 371.4,447.2 372.2,483.6 373.1,447.2 373.9,483.6 374.7,447.2 375.6,483.6 376.4,410.8 377.2,483.6 378.1,410.8 378.9,483.6 379.7,410.8 380.6,483.6 381.4,447.2 382.3,483.6 383.1,447.2 383.9,483.6 384.8,447.2 385.6,483.6 386.4,410.8 387.3,483.6 388.1,410.8 388.9,483.6 389.8,447.2 390.6,483.6 391.4,483.6 392.3,483.6 393.1,483.6 394,483.6 394.8,483.6 395.6,483.6 396.5,447.2 397.3,483.6 398.1,447.2 399,483.6 399.8,410.8 400.6,483.6 401.5,410.8 402.3,483.6 403.2,410.8 404,483.6 404.8,410.8 405.7,483.6 406.5,447.2 407.3,483.6 408.2,447.2 409,483.6 409.8,447.2 410.7,483.6 411.5,447.2 412.3,483.6 413.2,447.2 414,483.6 414.9,410.8 415.7,483.6 416.5,410.8 417.4,483.6 418.2,410.8 419,483.6 419.9,447.2 420.7,483.6 421.5,447.2 422.4,483.6 423.2,447.2 424.1,483.6 424.9,447.2 425.7,483.6 426.6,410.8 427.4,483.6 428.2,447.2 429.1,483.6 429.9,447.2 430.7,483.6 431.6,447.2 432.4,483.6 433.2,483.6 434.1,483.6 434.9,483.6 435.8,483.6 436.6,483.6 437.4,483.6 438.3,447.2 439.1,483.6 439.9,447.2 440.8,483.6 441.6,447.2 442.4,483.6 443.3,447.2 444.1,483.6" fill="none" stroke="#5aa3dc" stroke-width="4.3" stroke-linejoin="round" stroke-linecap="round"/>
<path d="M126.4 374.4h0M127.3 483.6h0M128.1 483.6h0M128.9 483.6h0M129.8 483.6h0M130.6 483.6h0M131.5 483.6h0M132.3 447.2h0M133.1 483.6h0M134 447.2h0M134.8 483.6h0M135.6 410.8h0M136.5 483.6h0M137.3 410.8h0M138.1 483.6h0M139 410.8h0M139.8 483.6h0M140.6 410.8h0M141.5 483.6h0M142.3 447.2h0M143.2 483.6h0M144 447.2h0M144.8 483.6h0M145.7 447.2h0M146.5 483.6h0M147.3 447.2h0M148.2 483.6h0M149 410.8h0M149.8 483.6h0M150.7 447.2h0M151.5 483.6h0M152.4 447.2h0M153.2 483.6h0M154 483.6h0M154.9 483.6h0M155.7 483.6h0M156.5 483.6h0M157.4 483.6h0M158.2 483.6h0M159 410.8h0M159.9 483.6h0M160.7 483.6h0M161.5 374.4h0M162.4 483.6h0M163.2 483.6h0M164.1 447.2h0M164.9 483.6h0M165.7 483.6h0M166.6 483.6h0M167.4 483.6h0M168.2 483.6h0M169.1 483.6h0M169.9 483.6h0M170.7 410.8h0M171.6 483.6h0M172.4 410.8h0M173.3 483.6h0M174.1 447.2h0M174.9 483.6h0M175.8 447.2h0M176.6 483.6h0M177.4 447.2h0M178.3 483.6h0M179.1 447.2h0M179.9 483.6h0M180.8 447.2h0M181.6 483.6h0M182.4 447.2h0M183.3 483.6h0M184.1 447.2h0M185 483.6h0M185.8 447.2h0M186.6 483.6h0M187.5 483.6h0M188.3 483.6h0M189.1 483.6h0M190 483.6h0M190.8 483.6h0M191.6 483.6h0M192.5 447.2h0M193.3 483.6h0M194.2 410.8h0M195 483.6h0M195.8 447.2h0M196.7 483.6h0M197.5 447.2h0M198.3 483.6h0M199.2 447.2h0M200 483.6h0M200.8 447.2h0M201.7 483.6h0M202.5 447.2h0M203.3 483.6h0M204.2 447.2h0M205 483.6h0M205.9 410.8h0M206.7 483.6h0M207.5 410.8h0M208.4 483.6h0M209.2 410.8h0M210 483.6h0M210.9 410.8h0M211.7 483.6h0M212.5 447.2h0M213.4 483.6h0M214.2 447.2h0M215.1 483.6h0M215.9 447.2h0M216.7 483.6h0M217.6 447.2h0M218.4 483.6h0M219.2 447.2h0M220.1 483.6h0M220.9 447.2h0M221.7 483.6h0M222.6 447.2h0M223.4 483.6h0M224.2 447.2h0M225.1 483.6h0M225.9 447.2h0M226.8 483.6h0M227.6 447.2h0M228.4 483.6h0M229.3 447.2h0M230.1 483.6h0M230.9 483.6h0M231.8 374.4h0M232.6 483.6h0M233.4 483.6h0M234.3 483.6h0M235.1 483.6h0M236 483.6h0M236.8 483.6h0M237.6 483.6h0M238.5 483.6h0M239.3 410.8h0M240.1 483.6h0M241 447.2h0M241.8 483.6h0M242.6 447.2h0M243.5 483.6h0M244.3 447.2h0M245.1 483.6h0M246 447.2h0M246.8 483.6h0M247.7 410.8h0M248.5 483.6h0M249.3 447.2h0M250.2 483.6h0M251 447.2h0M251.8 483.6h0M252.7 447.2h0M253.5 483.6h0M254.3 447.2h0M255.2 483.6h0M256 447.2h0M256.9 483.6h0M257.7 483.6h0M258.5 483.6h0M259.4 483.6h0M260.2 483.6h0M261 483.6h0M261.9 483.6h0M262.7 447.2h0M263.5 483.6h0M264.4 447.2h0M265.2 483.6h0M266 447.2h0M266.9 483.6h0M267.7 447.2h0M268.6 483.6h0M269.4 447.2h0M270.2 483.6h0M271.1 447.2h0M271.9 483.6h0M272.7 447.2h0M273.6 483.6h0M274.4 410.8h0M275.2 483.6h0M276.1 447.2h0M276.9 483.6h0M277.8 447.2h0M278.6 483.6h0M279.4 483.6h0M280.3 483.6h0M281.1 483.6h0M281.9 483.6h0M282.8 483.6h0M283.6 483.6h0M284.4 410.8h0M285.3 483.6h0M286.1 410.8h0M286.9 483.6h0M287.8 410.8h0M288.6 483.6h0M289.5 410.8h0M290.3 483.6h0M291.1 410.8h0M292 483.6h0M292.8 410.8h0M293.6 483.6h0M294.5 447.2h0M295.3 483.6h0M296.1 447.2h0M297 483.6h0M297.8 410.8h0M298.7 483.6h0M299.5 447.2h0M300.3 374.4h0M301.2 483.6h0M302 483.6h0M302.8 447.2h0M303.7 483.6h0M304.5 447.2h0M305.3 483.6h0M306.2 447.2h0M307 483.6h0M307.8 447.2h0M308.7 483.6h0M309.5 447.2h0M310.4 483.6h0M311.2 447.2h0M312 483.6h0M312.9 447.2h0M313.7 483.6h0M314.5 447.2h0M315.4 483.6h0M316.2 447.2h0M317 483.6h0M317.9 447.2h0M318.7 483.6h0M319.6 447.2h0M320.4 483.6h0M321.2 447.2h0M322.1 483.6h0M322.9 447.2h0M323.7 483.6h0M324.6 447.2h0M325.4 483.6h0M326.2 447.2h0M327.1 483.6h0M327.9 447.2h0M328.7 483.6h0M329.6 410.8h0M330.4 483.6h0M331.3 410.8h0M332.1 483.6h0M332.9 447.2h0M333.8 483.6h0M334.6 483.6h0M335.4 483.6h0M336.3 483.6h0M337.1 483.6h0M337.9 483.6h0M338.8 483.6h0M339.6 447.2h0M340.5 483.6h0M341.3 447.2h0M342.1 483.6h0M343 447.2h0M343.8 483.6h0M344.6 447.2h0M345.5 483.6h0M346.3 447.2h0M347.1 483.6h0M348 447.2h0M348.8 483.6h0M349.6 447.2h0M350.5 483.6h0M351.3 410.8h0M352.2 483.6h0M353 410.8h0M353.8 483.6h0M354.7 410.8h0M355.5 483.6h0M356.3 447.2h0M357.2 483.6h0M358 447.2h0M358.8 483.6h0M359.7 447.2h0M360.5 483.6h0M361.4 447.2h0M362.2 483.6h0M363 447.2h0M363.9 483.6h0M364.7 447.2h0M365.5 483.6h0M366.4 447.2h0M367.2 483.6h0M368 447.2h0M368.9 483.6h0M369.7 447.2h0M370.5 483.6h0M371.4 447.2h0M372.2 483.6h0M373.1 447.2h0M373.9 483.6h0M374.7 447.2h0M375.6 483.6h0M376.4 410.8h0M377.2 483.6h0M378.1 410.8h0M378.9 483.6h0M379.7 410.8h0M380.6 483.6h0M381.4 447.2h0M382.3 483.6h0M383.1 447.2h0M383.9 483.6h0M384.8 447.2h0M385.6 483.6h0M386.4 410.8h0M387.3 483.6h0M388.1 410.8h0M388.9 483.6h0M389.8 447.2h0M390.6 483.6h0M391.4 483.6h0M392.3 483.6h0M393.1 483.6h0M394 483.6h0M394.8 483.6h0M395.6 483.6h0M396.5 447.2h0M397.3 483.6h0M398.1 447.2h0M399 483.6h0M399.8 410.8h0M400.6 483.6h0M401.5 410.8h0M402.3 483.6h0M403.2 410.8h0M404 483.6h0M404.8 410.8h0M405.7 483.6h0M406.5 447.2h0M407.3 483.6h0M408.2 447.2h0M409 483.6h0M409.8 447.2h0M410.7 483.6h0M411.5 447.2h0M412.3 483.6h0M413.2 447.2h0M414 483.6h0M414.9 410.8h0M415.7 483.6h0M416.5 410.8h0M417.4 483.6h0M418.2 410.8h0M419 483.6h0M419.9 447.2h0M420.7 483.6h0M421.5 447.2h0M422.4 483.6h0M423.2 447.2h0M424.1 483.6h0M424.9 447.2h0M425.7 483.6h0M426.6 410.8h0M427.4 483.6h0M428.2 447.2h0M429.1 483.6h0M429.9 447.2h0M430.7 483.6h0M431.6 447.2h0M432.4 483.6h0M433.2 483.6h0M434.1 483.6h0M434.9 483.6h0M435.8 483.6h0M436.6 483.6h0M437.4 483.6h0M438.3 447.2h0M439.1 483.6h0M439.9 447.2h0M440.8 483.6h0M441.6 447.2h0M442.4 483.6h0M443.3 447.2h0M444.1 483.6h0" fill="none" stroke="#5aa3dc" stroke-width="6.6" stroke-linecap="round"/>
<ellipse cx="126.4" cy="374.2" rx="3.3" ry="2.8" fill="#ec4c50"/>
<ellipse cx="161.5" cy="374.2" rx="3.3" ry="2.8" fill="#ec4c50"/>
<ellipse cx="231.8" cy="374.2" rx="3.3" ry="2.8" fill="#ec4c50"/>
<ellipse cx="300.3" cy="374.2" rx="3.3" ry="2.8" fill="#ec4c50"/>
<path d="M105.5 374.4H109.5" stroke="#c0c0c0" stroke-width="1"/>
<text x="100.8" y="378.8" font-family="'Liberation Sans', sans-serif" font-size="12.5" font-weight="normal" fill="#7c7c7c" text-anchor="end" textLength="8.6" lengthAdjust="spacingAndGlyphs">3</text>
<path d="M105.5 410.8H109.5" stroke="#c0c0c0" stroke-width="1"/>
<text x="100.8" y="415.2" font-family="'Liberation Sans', sans-serif" font-size="12.5" font-weight="normal" fill="#7c7c7c" text-anchor="end" textLength="8.6" lengthAdjust="spacingAndGlyphs">2</text>
<path d="M105.5 447.2H109.5" stroke="#c0c0c0" stroke-width="1"/>
<text x="100.8" y="451.6" font-family="'Liberation Sans', sans-serif" font-size="12.5" font-weight="normal" fill="#7c7c7c" text-anchor="end" textLength="8.6" lengthAdjust="spacingAndGlyphs">1</text>
<path d="M105.5 483.6H109.5" stroke="#c0c0c0" stroke-width="1"/>
<text x="100.8" y="488" font-family="'Liberation Sans', sans-serif" font-size="12.5" font-weight="normal" fill="#7c7c7c" text-anchor="end" textLength="8.6" lengthAdjust="spacingAndGlyphs">0</text>
<path d="M105.5 520H109.5" stroke="#c0c0c0" stroke-width="1"/>
<text x="100.8" y="524.4" font-family="'Liberation Sans', sans-serif" font-size="12.5" font-weight="normal" fill="#7c7c7c" text-anchor="end" textLength="14.5" lengthAdjust="spacingAndGlyphs">-1</text>
<path d="M125.6 538V541" stroke="#c0c0c0" stroke-width="1"/>
<text x="125.6" y="550" font-family="'Liberation Sans', sans-serif" font-size="12.5" font-weight="normal" fill="#7c7c7c" text-anchor="middle" textLength="8.6" lengthAdjust="spacingAndGlyphs">0</text>
<path d="M209.2 538V541" stroke="#c0c0c0" stroke-width="1"/>
<text x="209.2" y="550" font-family="'Liberation Sans', sans-serif" font-size="12.5" font-weight="normal" fill="#7c7c7c" text-anchor="middle" textLength="25.8" lengthAdjust="spacingAndGlyphs">100</text>
<path d="M292.8 538V541" stroke="#c0c0c0" stroke-width="1"/>
<text x="292.8" y="550" font-family="'Liberation Sans', sans-serif" font-size="12.5" font-weight="normal" fill="#7c7c7c" text-anchor="middle" textLength="25.8" lengthAdjust="spacingAndGlyphs">200</text>
<path d="M376.4 538V541" stroke="#c0c0c0" stroke-width="1"/>
<text x="376.4" y="550" font-family="'Liberation Sans', sans-serif" font-size="12.5" font-weight="normal" fill="#7c7c7c" text-anchor="middle" textLength="25.8" lengthAdjust="spacingAndGlyphs">300</text>
<path d="M460 538V541" stroke="#c0c0c0" stroke-width="1"/>
<text x="460" y="550" font-family="'Liberation Sans', sans-serif" font-size="12.5" font-weight="normal" fill="#7c7c7c" text-anchor="middle" textLength="25.8" lengthAdjust="spacingAndGlyphs">400</text>
<text x="290.3" y="569" font-family="'Liberation Sans', sans-serif" font-size="16.5" font-weight="normal" fill="#333333" text-anchor="middle" textLength="137.5" lengthAdjust="spacingAndGlyphs">Sample Number</text>
<text transform="translate(77.3 451.2) rotate(-90)" x="0" y="0" font-family="'Liberation Sans', sans-serif" font-size="21.5" fill="#1f1f1f" text-anchor="middle" textLength="120.5" lengthAdjust="spacingAndGlyphs">LPS.140_160.__m</text>
<g clip-path="url(#clipC)">
<text x="445.6" y="410.8" font-family="'Liberation Sans', sans-serif" font-size="10.8" font-weight="bold" fill="#383838" text-anchor="start" textLength="20.5" lengthAdjust="spacingAndGlyphs">2.2</text>
<text x="445.6" y="471" font-family="'Liberation Sans', sans-serif" font-size="10.8" font-weight="bold" fill="#383838" text-anchor="start" textLength="20.5" lengthAdjust="spacingAndGlyphs">0.5</text>
<text x="450.5" y="532" font-family="'Liberation Sans', sans-serif" font-size="10.8" font-weight="bold" fill="#383838" text-anchor="start" textLength="25" lengthAdjust="spacingAndGlyphs">-1.2</text>
</g>
<path d="M501.2 366V572.5" stroke="#9a9a9a" stroke-width="1" fill="none"/>
<path d="M501 366H911.5" stroke="#d5d5d5" stroke-width="1" fill="none"/>
<path d="M911.5 366V545" stroke="#f2f2f2" stroke-width="1" fill="none"/>
<path d="M559 366V537.5H911.5" stroke="#efefef" stroke-width="1" fill="none"/>
<rect x="575.3" y="374.4" width="307" height="152.8" fill="#eeeeee"/>
<polyline points="572.8,466.7 573.6,479.5 574.4,479.4 575.3,409.2 576.1,475.6 576.9,480.1 577.7,449.9 578.5,480.7 579.3,390 580.2,478.9 581,441 581.8,478.2 582.6,447.4 583.4,476.8 584.2,449.7 585.1,477.5 585.9,443.6 586.7,476.7 587.5,452 588.3,480.5 589.1,410.9 590,470.4 590.8,433 591.6,478 592.4,446.5 593.2,477 594,475.3 594.9,423.8 595.7,471.3 596.5,460.7 597.3,442.4 598.1,480.7 598.9,446 599.8,479 600.6,444.8 601.4,478.7 602.2,430.9 603,480 603.8,406.7 604.7,472.3 605.5,449.6 606.3,468.6 607.1,451.7 607.9,480.5 608.7,449.3 609.6,480.5 610.4,390 611.2,478.1 612,476.9 612.8,391.4 613.6,478.3 614.5,477.3 615.3,391.7 616.1,478.9 616.9,480.2 617.7,390.4 618.6,478.1 619.4,477.1 620.2,386.7 621,476.6 621.8,441.3 622.6,478.4 623.5,410.1 624.3,479.1 625.1,446.5 625.9,478.7 626.7,476.6 627.5,397.6 628.4,479.5 629.2,479.2 630,426.6 630.8,477.4 631.6,415.1 632.4,477 633.3,432.7 634.1,480.7 634.9,480.7 635.7,395.1 636.5,473.8 637.3,477 638.2,441.7 639,480.5 639.8,404.2 640.6,478.8 641.4,448.5 642.2,479.5 643.1,477.1 643.9,423.4 644.7,477.6 645.5,481 646.3,431.5 647.1,479.2 648,429.7 648.8,478.7 649.6,470.3 650.4,423.4 651.2,479.4 652,477.2 652.9,441.8 653.7,480.1 654.5,480 655.3,405.4 656.1,479.9 657,476.7 657.8,443.8 658.6,477.8 659.4,445.6 660.2,479.4 661,386.7 661.9,477.6 662.7,450.9 663.5,480.9 664.3,427.4 665.1,478.4 665.9,399.2 666.8,478.2 667.6,446.8 668.4,479.8 669.2,478.7 670,418.4 670.8,477.7 671.7,460.6 672.5,426.9 673.3,478.9 674.1,414.8 674.9,470.3 675.7,450.3 676.6,456 677.4,446.9 678.2,461.5 679,449.5 679.8,476.7 680.6,418.4 681.5,473.4 682.3,441.3 683.1,479.2 683.9,428.2 684.7,479.1 685.5,403.1 686.4,480.1 687.2,445.5 688,463.6 688.8,451 689.6,462.1 690.4,442 691.3,476.9 692.1,479.8 692.9,386.7 693.7,479.8 694.5,480.4 695.3,448.2 696.2,470.9 697,481 697.8,427.6 698.6,478.2 699.4,477.5 700.3,431 701.1,473.4 701.9,445.2 702.7,479.7 703.5,447.1 704.3,478.3 705.2,388 706,470.7 706.8,449.5 707.6,460.2 708.4,441.1 709.2,478.6 710.1,441.7 710.9,479.9 711.7,479.5 712.5,423.4 713.3,472.8 714.1,479.6 715,437.5 715.8,476.7 716.6,445.3 717.4,475.7 718.2,479.1 719,418.8 719.9,479.8 720.7,418.8 721.5,480.2 722.3,476.9 723.1,471.2 723.9,425.1 724.8,477.5 725.6,480.9 726.4,444.4 727.2,469.3 728,446.8 728.8,472.7 729.7,395.1 730.5,476.7 731.3,451.7 732.1,460.1 732.9,478.2 733.7,400.1 734.6,480.2 735.4,476.8 736.2,441.8 737,480.2 737.8,449.4 738.7,478.5 739.5,447.8 740.3,476.6 741.1,478.7 741.9,390.9 742.7,461.2 743.6,461.9 744.4,445.4 745.2,461.5 746,391.7 746.8,479.3 747.6,443.7 748.5,479.7 749.3,479.2 750.1,389.7 750.9,453.3 751.7,452.5 752.5,452.9 753.4,392.5 754.2,453 755,452.9 755.8,393.4 756.6,452.6 757.4,428 758.3,460.2 759.1,428.5 759.9,480 760.7,423.4 761.5,480.1 762.3,448.3 763.2,480.4 764,448.7 764.8,480.7 765.6,414.3 766.4,477.4 767.2,428.3 768.1,465.6 768.9,433.3 769.7,462.9 770.5,451.9 771.3,471.2 772.1,444.4 773,477.9 773.8,445.3 774.6,480.3 775.4,393.4 776.2,480.5 777,476.8 777.9,393 778.7,479.4 779.5,392.5 780.3,480.2 781.1,391.7 782,477.7 782.8,474.4 783.6,390.9 784.4,466 785.2,448.5 786,467.9 786.9,451.5 787.7,477.9 788.5,477.5 789.3,399.2 790.1,477.4 790.9,465.1 791.8,443.2 792.6,467.1 793.4,444.1 794.2,478.7 795,413.4 795.8,479.7 796.7,445.8 797.5,479.3 798.3,444.1 799.1,477.3 799.9,445.2 800.7,467.4 801.6,443.1 802.4,468.6 803.2,427.6 804,466.1 804.8,451.3 805.6,479.7 806.5,441.2 807.3,470.9 808.1,441.4 808.9,479.2 809.7,448.7 810.5,478 811.4,390.9 812.2,479.4 813,442 813.8,477.9 814.6,446 815.4,478.2 816.3,397.6 817.1,470.2 817.9,449.7 818.7,477.1 819.5,405.1 820.4,476.8 821.2,427 822,478.3 822.8,479.6 823.6,419.3 824.4,478.4 825.3,480.3 826.1,451.2 826.9,480.5 827.7,441.2 828.5,477.1 829.3,430.1 830.2,480.5 831,449.2 831.8,479.9 832.6,443.1 833.4,472.4 834.2,479.4 835.1,400.1 835.9,476.6 836.7,478.6 837.5,449.8 838.3,479.8 839.1,403.4 840,479.2 840.8,444.3 841.6,479.3 842.4,478.5 843.2,391.7 844,478.8 844.9,467.6 845.7,448.5 846.5,477.4 847.3,444 848.1,474.4 848.9,441.4 849.8,478.7 850.6,448.5 851.4,479.4 852.2,442.7 853,463.4 853.8,451.2 854.7,478.9 855.5,480.8 856.3,424.3 857.1,478.2 857.9,478.9 858.8,441.9 859.6,480.2 860.4,479.4 861.2,414.3 862,473.8 862.8,464.6 863.7,447.9 864.5,472.8 865.3,448.8 866.1,478.1 866.9,390.9 867.7,478.1 868.6,449.9 869.4,480.6 870.2,448.5 871,462.6 871.8,433.5 872.6,465.7 873.5,439.6 874.3,476.9 875.1,439.1 875.9,477.5 876.7,439.9 877.5,478.6 878.4,439.7 879.2,475.3 880,470 880.8,478 881.6,474 882.4,478" fill="none" stroke="#5aa3dc" stroke-width="3.8" stroke-linejoin="round" stroke-linecap="round"/>
<path d="M572.8 466.7h0M573.6 479.5h0M574.4 479.4h0M575.3 409.2h0M576.1 475.6h0M576.9 480.1h0M577.7 449.9h0M578.5 480.7h0M579.3 390h0M580.2 478.9h0M581 441h0M581.8 478.2h0M582.6 447.4h0M583.4 476.8h0M584.2 449.7h0M585.1 477.5h0M585.9 443.6h0M586.7 476.7h0M587.5 452h0M588.3 480.5h0M589.1 410.9h0M590 470.4h0M590.8 433h0M591.6 478h0M592.4 446.5h0M593.2 477h0M594 475.3h0M594.9 423.8h0M595.7 471.3h0M596.5 460.7h0M597.3 442.4h0M598.1 480.7h0M598.9 446h0M599.8 479h0M600.6 444.8h0M601.4 478.7h0M602.2 430.9h0M603 480h0M603.8 406.7h0M604.7 472.3h0M605.5 449.6h0M606.3 468.6h0M607.1 451.7h0M607.9 480.5h0M608.7 449.3h0M609.6 480.5h0M610.4 390h0M611.2 478.1h0M612 476.9h0M612.8 391.4h0M613.6 478.3h0M614.5 477.3h0M615.3 391.7h0M616.1 478.9h0M616.9 480.2h0M617.7 390.4h0M618.6 478.1h0M619.4 477.1h0M620.2 386.7h0M621 476.6h0M621.8 441.3h0M622.6 478.4h0M623.5 410.1h0M624.3 479.1h0M625.1 446.5h0M625.9 478.7h0M626.7 476.6h0M627.5 397.6h0M628.4 479.5h0M629.2 479.2h0M630 426.6h0M630.8 477.4h0M631.6 415.1h0M632.4 477h0M633.3 432.7h0M634.1 480.7h0M634.9 480.7h0M635.7 395.1h0M636.5 473.8h0M637.3 477h0M638.2 441.7h0M639 480.5h0M639.8 404.2h0M640.6 478.8h0M641.4 448.5h0M642.2 479.5h0M643.1 477.1h0M643.9 423.4h0M644.7 477.6h0M645.5 481h0M646.3 431.5h0M647.1 479.2h0M648 429.7h0M648.8 478.7h0M649.6 470.3h0M650.4 423.4h0M651.2 479.4h0M652 477.2h0M652.9 441.8h0M653.7 480.1h0M654.5 480h0M655.3 405.4h0M656.1 479.9h0M657 476.7h0M657.8 443.8h0M658.6 477.8h0M659.4 445.6h0M660.2 479.4h0M661 386.7h0M661.9 477.6h0M662.7 450.9h0M663.5 480.9h0M664.3 427.4h0M665.1 478.4h0M665.9 399.2h0M666.8 478.2h0M667.6 446.8h0M668.4 479.8h0M669.2 478.7h0M670 418.4h0M670.8 477.7h0M671.7 460.6h0M672.5 426.9h0M673.3 478.9h0M674.1 414.8h0M674.9 470.3h0M675.7 450.3h0M676.6 456h0M677.4 446.9h0M678.2 461.5h0M679 449.5h0M679.8 476.7h0M680.6 418.4h0M681.5 473.4h0M682.3 441.3h0M683.1 479.2h0M683.9 428.2h0M684.7 479.1h0M685.5 403.1h0M686.4 480.1h0M687.2 445.5h0M688 463.6h0M688.8 451h0M689.6 462.1h0M690.4 442h0M691.3 476.9h0M692.1 479.8h0M692.9 386.7h0M693.7 479.8h0M694.5 480.4h0M695.3 448.2h0M696.2 470.9h0M697 481h0M697.8 427.6h0M698.6 478.2h0M699.4 477.5h0M700.3 431h0M701.1 473.4h0M701.9 445.2h0M702.7 479.7h0M703.5 447.1h0M704.3 478.3h0M705.2 388h0M706 470.7h0M706.8 449.5h0M707.6 460.2h0M708.4 441.1h0M709.2 478.6h0M710.1 441.7h0M710.9 479.9h0M711.7 479.5h0M712.5 423.4h0M713.3 472.8h0M714.1 479.6h0M715 437.5h0M715.8 476.7h0M716.6 445.3h0M717.4 475.7h0M718.2 479.1h0M719 418.8h0M719.9 479.8h0M720.7 418.8h0M721.5 480.2h0M722.3 476.9h0M723.1 471.2h0M723.9 425.1h0M724.8 477.5h0M725.6 480.9h0M726.4 444.4h0M727.2 469.3h0M728 446.8h0M728.8 472.7h0M729.7 395.1h0M730.5 476.7h0M731.3 451.7h0M732.1 460.1h0M732.9 478.2h0M733.7 400.1h0M734.6 480.2h0M735.4 476.8h0M736.2 441.8h0M737 480.2h0M737.8 449.4h0M738.7 478.5h0M739.5 447.8h0M740.3 476.6h0M741.1 478.7h0M741.9 390.9h0M742.7 461.2h0M743.6 461.9h0M744.4 445.4h0M745.2 461.5h0M746 391.7h0M746.8 479.3h0M747.6 443.7h0M748.5 479.7h0M749.3 479.2h0M750.1 389.7h0M750.9 453.3h0M751.7 452.5h0M752.5 452.9h0M753.4 392.5h0M754.2 453h0M755 452.9h0M755.8 393.4h0M756.6 452.6h0M757.4 428h0M758.3 460.2h0M759.1 428.5h0M759.9 480h0M760.7 423.4h0M761.5 480.1h0M762.3 448.3h0M763.2 480.4h0M764 448.7h0M764.8 480.7h0M765.6 414.3h0M766.4 477.4h0M767.2 428.3h0M768.1 465.6h0M768.9 433.3h0M769.7 462.9h0M770.5 451.9h0M771.3 471.2h0M772.1 444.4h0M773 477.9h0M773.8 445.3h0M774.6 480.3h0M775.4 393.4h0M776.2 480.5h0M777 476.8h0M777.9 393h0M778.7 479.4h0M779.5 392.5h0M780.3 480.2h0M781.1 391.7h0M782 477.7h0M782.8 474.4h0M783.6 390.9h0M784.4 466h0M785.2 448.5h0M786 467.9h0M786.9 451.5h0M787.7 477.9h0M788.5 477.5h0M789.3 399.2h0M790.1 477.4h0M790.9 465.1h0M791.8 443.2h0M792.6 467.1h0M793.4 444.1h0M794.2 478.7h0M795 413.4h0M795.8 479.7h0M796.7 445.8h0M797.5 479.3h0M798.3 444.1h0M799.1 477.3h0M799.9 445.2h0M800.7 467.4h0M801.6 443.1h0M802.4 468.6h0M803.2 427.6h0M804 466.1h0M804.8 451.3h0M805.6 479.7h0M806.5 441.2h0M807.3 470.9h0M808.1 441.4h0M808.9 479.2h0M809.7 448.7h0M810.5 478h0M811.4 390.9h0M812.2 479.4h0M813 442h0M813.8 477.9h0M814.6 446h0M815.4 478.2h0M816.3 397.6h0M817.1 470.2h0M817.9 449.7h0M818.7 477.1h0M819.5 405.1h0M820.4 476.8h0M821.2 427h0M822 478.3h0M822.8 479.6h0M823.6 419.3h0M824.4 478.4h0M825.3 480.3h0M826.1 451.2h0M826.9 480.5h0M827.7 441.2h0M828.5 477.1h0M829.3 430.1h0M830.2 480.5h0M831 449.2h0M831.8 479.9h0M832.6 443.1h0M833.4 472.4h0M834.2 479.4h0M835.1 400.1h0M835.9 476.6h0M836.7 478.6h0M837.5 449.8h0M838.3 479.8h0M839.1 403.4h0M840 479.2h0M840.8 444.3h0M841.6 479.3h0M842.4 478.5h0M843.2 391.7h0M844 478.8h0M844.9 467.6h0M845.7 448.5h0M846.5 477.4h0M847.3 444h0M848.1 474.4h0M848.9 441.4h0M849.8 478.7h0M850.6 448.5h0M851.4 479.4h0M852.2 442.7h0M853 463.4h0M853.8 451.2h0M854.7 478.9h0M855.5 480.8h0M856.3 424.3h0M857.1 478.2h0M857.9 478.9h0M858.8 441.9h0M859.6 480.2h0M860.4 479.4h0M861.2 414.3h0M862 473.8h0M862.8 464.6h0M863.7 447.9h0M864.5 472.8h0M865.3 448.8h0M866.1 478.1h0M866.9 390.9h0M867.7 478.1h0M868.6 449.9h0M869.4 480.6h0M870.2 448.5h0M871 462.6h0M871.8 433.5h0M872.6 465.7h0M873.5 439.6h0M874.3 476.9h0M875.1 439.1h0M875.9 477.5h0M876.7 439.9h0M877.5 478.6h0M878.4 439.7h0M879.2 475.3h0M880 470h0M880.8 478h0M881.6 474h0M882.4 478h0" fill="none" stroke="#5aa3dc" stroke-width="6" stroke-linecap="round"/>
<path d="M554.5 404.2H558.5" stroke="#c0c0c0" stroke-width="1"/>
<text x="548.3" y="408.6" font-family="'Liberation Sans', sans-serif" font-size="12.5" font-weight="normal" fill="#7c7c7c" text-anchor="end" textLength="17.2" lengthAdjust="spacingAndGlyphs">60</text>
<path d="M554.5 444.1H558.5" stroke="#c0c0c0" stroke-width="1"/>
<text x="548.3" y="448.5" font-family="'Liberation Sans', sans-serif" font-size="12.5" font-weight="normal" fill="#7c7c7c" text-anchor="end" textLength="17.2" lengthAdjust="spacingAndGlyphs">30</text>
<path d="M554.5 483.9H558.5" stroke="#c0c0c0" stroke-width="1"/>
<text x="548.3" y="488.3" font-family="'Liberation Sans', sans-serif" font-size="12.5" font-weight="normal" fill="#7c7c7c" text-anchor="end" textLength="8.6" lengthAdjust="spacingAndGlyphs">0</text>
<path d="M554.5 523.7H558.5" stroke="#c0c0c0" stroke-width="1"/>
<text x="548.3" y="528.1" font-family="'Liberation Sans', sans-serif" font-size="12.5" font-weight="normal" fill="#7c7c7c" text-anchor="end" textLength="23.5" lengthAdjust="spacingAndGlyphs">-30</text>
<path d="M572.8 538V541" stroke="#c0c0c0" stroke-width="1"/>
<text x="572.8" y="551" font-family="'Liberation Sans', sans-serif" font-size="12.5" font-weight="normal" fill="#7c7c7c" text-anchor="middle" textLength="8.6" lengthAdjust="spacingAndGlyphs">0</text>
<path d="M654.4 538V541" stroke="#c0c0c0" stroke-width="1"/>
<text x="654.4" y="551" font-family="'Liberation Sans', sans-serif" font-size="12.5" font-weight="normal" fill="#7c7c7c" text-anchor="middle" textLength="25.8" lengthAdjust="spacingAndGlyphs">100</text>
<path d="M736 538V541" stroke="#c0c0c0" stroke-width="1"/>
<text x="736" y="551" font-family="'Liberation Sans', sans-serif" font-size="12.5" font-weight="normal" fill="#7c7c7c" text-anchor="middle" textLength="25.8" lengthAdjust="spacingAndGlyphs">200</text>
<path d="M817.6 538V541" stroke="#c0c0c0" stroke-width="1"/>
<text x="817.6" y="551" font-family="'Liberation Sans', sans-serif" font-size="12.5" font-weight="normal" fill="#7c7c7c" text-anchor="middle" textLength="25.8" lengthAdjust="spacingAndGlyphs">300</text>
<path d="M899.2 538V541" stroke="#c0c0c0" stroke-width="1"/>
<text x="899.2" y="551" font-family="'Liberation Sans', sans-serif" font-size="12.5" font-weight="normal" fill="#7c7c7c" text-anchor="middle" textLength="25.8" lengthAdjust="spacingAndGlyphs">400</text>
<text x="734" y="570" font-family="'Liberation Sans', sans-serif" font-size="16.5" font-weight="normal" fill="#333333" text-anchor="middle" textLength="136" lengthAdjust="spacingAndGlyphs">Sample Number</text>
<text transform="translate(515 451.2) rotate(-90)" x="0" y="0" font-family="'Liberation Sans', sans-serif" font-size="21" fill="#1f1f1f" text-anchor="middle" textLength="141" lengthAdjust="spacingAndGlyphs">INCLUSION_COUNT</text>
<g clip-path="url(#clipD)">
<text x="887.3" y="380" font-family="'Liberation Sans', sans-serif" font-size="10.8" font-weight="bold" fill="#383838" text-anchor="start" textLength="20" lengthAdjust="spacingAndGlyphs">83.</text>
<text x="887.3" y="457" font-family="'Liberation Sans', sans-serif" font-size="10.8" font-weight="bold" fill="#383838" text-anchor="start" textLength="20" lengthAdjust="spacingAndGlyphs">24.</text>
<text x="889.3" y="532" font-family="'Liberation Sans', sans-serif" font-size="10.8" font-weight="bold" fill="#383838" text-anchor="start" textLength="19" lengthAdjust="spacingAndGlyphs">-33</text>
</g>
</g>
<text x="158.8" y="305.6" font-family="'Liberation Serif', serif" font-size="18" fill="#1c1c1c" textLength="140.6" lengthAdjust="spacingAndGlyphs"><tspan font-weight="bold">(a)</tspan><tspan stroke="#1c1c1c" stroke-width="0.16"> Cleanliness</tspan></text>
<text x="584.6" y="306" font-family="'Liberation Serif', serif" font-size="18" fill="#1c1c1c" textLength="165.4" lengthAdjust="spacingAndGlyphs"><tspan font-weight="bold">(b)</tspan><tspan stroke="#1c1c1c" stroke-width="0.16"> LPS 120 - 140</tspan></text>
<text x="152.7" y="603.4" font-family="'Liberation Serif', serif" font-size="18" fill="#1c1c1c" textLength="161.7" lengthAdjust="spacingAndGlyphs"><tspan font-weight="bold">(c)</tspan><tspan stroke="#1c1c1c" stroke-width="0.16"> LPS 140 - 160</tspan></text>
<text x="597" y="603" font-family="'Liberation Serif', serif" font-size="18" fill="#1c1c1c" textLength="195" lengthAdjust="spacingAndGlyphs"><tspan font-weight="bold">(d)</tspan><tspan stroke="#1c1c1c" stroke-width="0.16"> Inclusion Count</tspan></text>
<g font-family="'Liberation Serif', serif" font-size="18.5" fill="#1a1a1a">
<text x="35" y="667.6" font-weight="bold" textLength="48.4" lengthAdjust="spacingAndGlyphs">Figure</text>
<text x="90.1" y="667.6" font-weight="bold" textLength="14" lengthAdjust="spacingAndGlyphs">3:</text>
<text x="110.2" y="667.6" textLength="76.1" lengthAdjust="spacingAndGlyphs">Individual</text>
<text x="193.7" y="667.6" textLength="43.4" lengthAdjust="spacingAndGlyphs">charts</text>
<text x="244.4" y="667.6" textLength="19.4" lengthAdjust="spacingAndGlyphs">for</text>
<text x="271.2" y="667.6" textLength="55.4" lengthAdjust="spacingAndGlyphs">control</text>
<text x="333.3" y="667.6" textLength="61.8" lengthAdjust="spacingAndGlyphs">variables</text>
<text x="401.8" y="667.6" textLength="14.4" lengthAdjust="spacingAndGlyphs">of</text>
<text x="423.5" y="667.6" textLength="16.7" lengthAdjust="spacingAndGlyphs">(a)</text>
<text x="446.9" y="667.6" textLength="86.8" lengthAdjust="spacingAndGlyphs">Cleanliness,</text>
<text x="543.8" y="667.6" textLength="18.3" lengthAdjust="spacingAndGlyphs">(b)</text>
<text x="570.5" y="667.6" textLength="28.4" lengthAdjust="spacingAndGlyphs">LPS</text>
<text x="607.2" y="667.6" textLength="64.6" lengthAdjust="spacingAndGlyphs">120&#8211;140,</text>
<text x="680.1" y="667.6" textLength="17.4" lengthAdjust="spacingAndGlyphs">(c)</text>
<text x="704.2" y="667.6" textLength="28.7" lengthAdjust="spacingAndGlyphs">LPS</text>
<text x="740.9" y="667.6" textLength="65.5" lengthAdjust="spacingAndGlyphs">140&#8211;160,</text>
<text x="815.4" y="667.6" textLength="17.7" lengthAdjust="spacingAndGlyphs">(d)</text>
<text x="846.5" y="667.6" textLength="69.1" lengthAdjust="spacingAndGlyphs">Inclusion</text>
<text x="35" y="690.3" textLength="51.8" lengthAdjust="spacingAndGlyphs">Count.</text>
</g>
</svg>
</body></html>
